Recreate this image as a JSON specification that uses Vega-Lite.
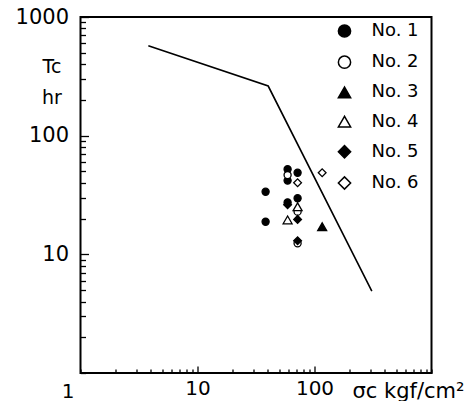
{
  "$schema": "https://vega.github.io/schema/vega-lite/v6.json",
  "width": 351,
  "height": 356,
  "autosize": {"type": "none"},
  "padding": {"left": 80.5, "top": 17, "right": 43.5, "bottom": 28},
  "background": "white",
  "config": {"view": {"stroke": "black", "strokeWidth": 2}, "font": "DejaVu Sans"},
  "datasets": {
    "curve": [
      {"sigma": 3.8, "tc": 573},
      {"sigma": 40.2, "tc": 262},
      {"sigma": 309, "tc": 4.9}
    ],
    "points": [
      {"series": "No. 1", "sigma": 58.9, "tc": 52.1},
      {"series": "No. 1", "sigma": 58.9, "tc": 41.8},
      {"series": "No. 1", "sigma": 71.7, "tc": 48.7},
      {"series": "No. 1", "sigma": 38.2, "tc": 33.7},
      {"series": "No. 1", "sigma": 71.7, "tc": 29.7},
      {"series": "No. 1", "sigma": 58.9, "tc": 27.4},
      {"series": "No. 1", "sigma": 38.2, "tc": 18.8},
      {"series": "No. 5", "sigma": 58.9, "tc": 26.2},
      {"series": "No. 5", "sigma": 71.7, "tc": 19.7},
      {"series": "No. 5", "sigma": 71.7, "tc": 13.0},
      {"series": "No. 3", "sigma": 116.3, "tc": 17.1},
      {"series": "No. 2", "sigma": 58.9, "tc": 46.6},
      {"series": "No. 2", "sigma": 71.7, "tc": 22.9},
      {"series": "No. 2", "sigma": 71.7, "tc": 12.4},
      {"series": "No. 4", "sigma": 71.7, "tc": 25.2},
      {"series": "No. 4", "sigma": 58.9, "tc": 19.5},
      {"series": "No. 6", "sigma": 71.7, "tc": 40.1},
      {"series": "No. 6", "sigma": 116.3, "tc": 48.7}
    ]
  },
  "encoding": {
    "x": {
      "field": "sigma",
      "type": "quantitative",
      "scale": {"type": "log", "domain": [1, 1000], "nice": false},
      "axis": {
        "values": [1, 2, 3, 4, 5, 6, 7, 8, 9, 10, 20, 30, 40, 50, 60, 70, 80, 90, 100, 200, 300, 400, 500, 600, 700, 800, 900, 1000],
        "labelExpr": "datum.value == 1 ? '1' : datum.value == 10 ? '10' : datum.value == 100 ? '100' : ''",
        "domain": false,
        "grid": false,
        "tickColor": "black",
        "tickWidth": 1.3,
        "tickSize": {"condition": {"test": "datum.value == 10 || datum.value == 100", "value": -7}, "value": -4},
        "labelPadding": 12,
        "labelFontSize": 20,
        "labelFont": "DejaVu Sans",
        "labelColor": "black",
        "labelBaseline": "top",
        "labelOffset": {"condition": {"test": "datum.value == 1", "value": -13}, "value": 0},
        "labelOverlap": false,
        "labelBound": false,
        "labelFlush": false,
        "title": "σc kgf/cm²",
        "titleX": 271.5,
        "titleY": 24,
        "titleAlign": "left",
        "titleBaseline": "alphabetic",
        "titleFontSize": 21,
        "titleFontWeight": "normal",
        "titleFont": "DejaVu Sans",
        "titleColor": "black"
      }
    },
    "y": {
      "field": "tc",
      "type": "quantitative",
      "scale": {"type": "log", "domain": [1, 1000], "nice": false},
      "axis": {
        "values": [1, 2, 3, 4, 5, 6, 7, 8, 9, 10, 20, 30, 40, 50, 60, 70, 80, 90, 100, 200, 300, 400, 500, 600, 700, 800, 900, 1000],
        "labelExpr": "datum.value == 1000 ? '1000' : datum.value == 100 ? '100' : datum.value == 10 ? '10' : ''",
        "domain": false,
        "grid": false,
        "tickColor": "black",
        "tickWidth": 1.3,
        "tickSize": {"condition": {"test": "datum.value == 10 || datum.value == 100 || datum.value == 1000", "value": -8}, "value": -5},
        "labelPadding": 20,
        "labelFontSize": 21,
        "labelFont": "DejaVu Sans",
        "labelColor": "black",
        "labelBaseline": "middle",
        "labelOverlap": false,
        "labelBound": false,
        "labelFlush": false,
        "title": ["Tc", "hr"],
        "titleAngle": 0,
        "titleX": -29,
        "titleY": 55,
        "titleAlign": "center",
        "titleBaseline": "alphabetic",
        "titleFontSize": 19,
        "titleLineHeight": 31,
        "titleFontWeight": "normal",
        "titleFont": "DejaVu Sans",
        "titleColor": "black"
      }
    },
    "fill": {
      "field": "series",
      "type": "nominal",
      "scale": {"domain": ["No. 1", "No. 2", "No. 3", "No. 4", "No. 5", "No. 6"], "range": ["black", "white", "black", "white", "black", "white"]},
      "legend": {"orient": "none", "legendX": 255, "legendY": 5, "title": null, "symbolSize": 150, "labelFontSize": 18, "labelFont": "DejaVu Sans", "labelColor": "black", "labelOffset": 18, "rowPadding": 11.2, "padding": 0, "encode": {"symbols": {"update": {"stroke": {"value": "black"}, "strokeWidth": {"value": 1.4}}}}}
    },
    "shape": {
      "field": "series",
      "type": "nominal",
      "scale": {"domain": ["No. 1", "No. 2", "No. 3", "No. 4", "No. 5", "No. 6"], "range": ["circle", "circle", "triangle-up", "triangle-up", "diamond", "diamond"]},
      "legend": {"orient": "none", "legendX": 255, "legendY": 5, "title": null, "symbolSize": 150, "labelFontSize": 18, "labelFont": "DejaVu Sans", "labelColor": "black", "labelOffset": 18, "rowPadding": 11.2, "padding": 0, "encode": {"symbols": {"update": {"stroke": {"value": "black"}, "strokeWidth": {"value": 1.4}}}}}
    }
  },
  "layer": [
    {
      "data": {"name": "curve"},
      "mark": {"type": "line", "color": "black", "strokeWidth": 1.6},
      "encoding": {"fill": null, "shape": null}
    },
    {
      "data": {"name": "points"},
      "transform": [{"filter": "datum.series == 'No. 1' || datum.series == 'No. 2'"}],
      "mark": {"type": "point", "filled": true, "stroke": "black", "strokeWidth": 1.3, "opacity": 1, "size": 50}
    },
    {
      "data": {"name": "points"},
      "transform": [{"filter": "datum.series == 'No. 5' || datum.series == 'No. 6'"}],
      "mark": {"type": "point", "filled": true, "stroke": "black", "strokeWidth": 1.3, "opacity": 1, "size": 60}
    },
    {
      "data": {"name": "points"},
      "transform": [{"filter": "datum.series == 'No. 3' || datum.series == 'No. 4'"}],
      "mark": {"type": "point", "filled": true, "stroke": "black", "strokeWidth": 1.3, "opacity": 1, "size": 80}
    }
  ]
}
